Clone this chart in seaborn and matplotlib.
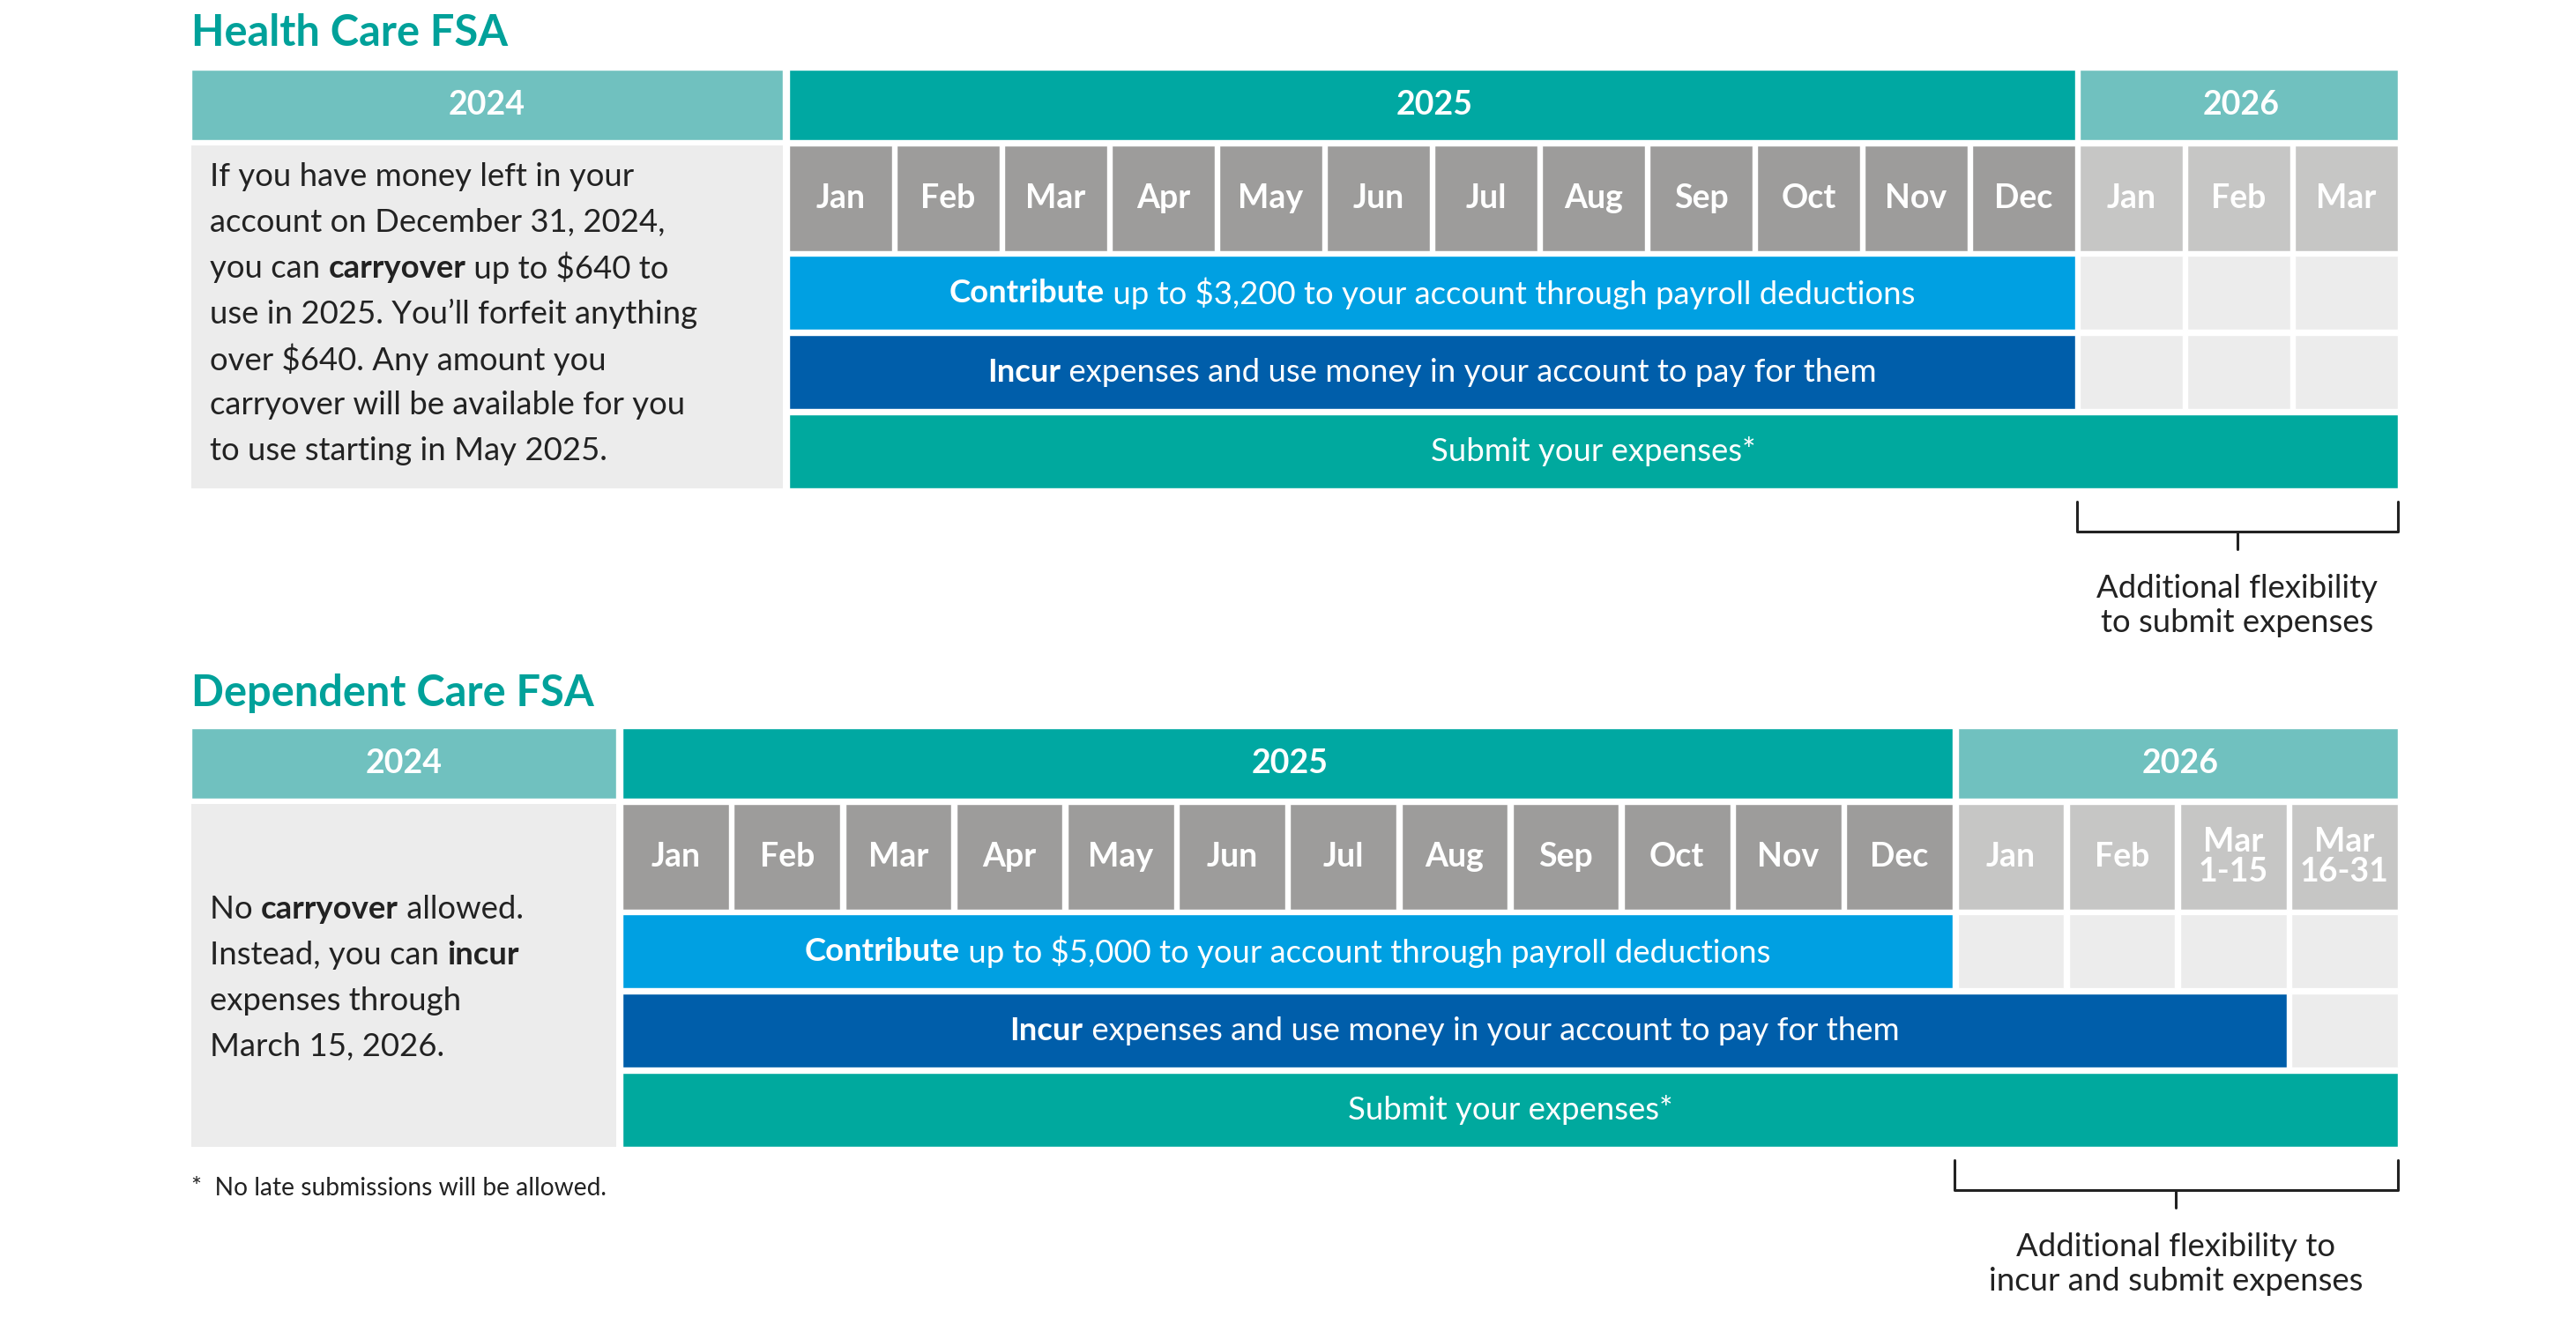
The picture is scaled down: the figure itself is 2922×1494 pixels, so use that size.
import matplotlib
matplotlib.use("Agg")
import matplotlib.pyplot as plt
import seaborn as sns
from matplotlib.patches import Rectangle

sns.set_theme(style="white")
plt.rcParams["font.family"] = "Lato"

# ---------------- data ----------------
months_hc = ["Jan", "Feb", "Mar", "Apr", "May", "Jun", "Jul", "Aug", "Sep", "Oct", "Nov", "Dec", "Jan", "Feb", "Mar"]
months_dc = ["Jan", "Feb", "Mar", "Apr", "May", "Jun", "Jul", "Aug", "Sep", "Oct", "Nov", "Dec", "Jan", "Feb", "Mar\n1-15", "Mar\n16-31"]
years = ["2024", "2025", "2026"]
# bars: (segments, start column, end column exclusive)
bars_hc = [
    ([("Contribute", "bold"), (" up to $3,200 to your account through payroll deductions", "normal")], 0, 12),
    ([("Incur", "bold"), (" expenses and use money in your account to pay for them", "normal")], 0, 12),
    ([("Submit your expenses*", "normal")], 0, 15),
]
bars_dc = [
    ([("Contribute", "bold"), (" up to $5,000 to your account through payroll deductions", "normal")], 0, 12),
    ([("Incur", "bold"), (" expenses and use money in your account to pay for them", "normal")], 0, 15),
    ([("Submit your expenses*", "normal")], 0, 16),
]
text_hc = [
    [("If you have money left in your", "normal")],
    [("account on December 31, 2024,", "normal")],
    [("you can ", "normal"), ("carryover", "bold"), (" up to $640 to", "normal")],
    [("use in 2025. You\u2019ll forfeit anything", "normal")],
    [("over $640. Any amount you", "normal")],
    [("carryover will be available for you", "normal")],
    [("to use starting in May 2025.", "normal")],
]
text_dc = [
    [("No ", "normal"), ("carryover", "bold"), (" allowed.", "normal")],
    [("Instead, you can ", "normal"), ("incur", "bold")],
    [("expenses through", "normal")],
    [("March 15, 2026.", "normal")],
]
note_hc = "Additional flexibility\nto submit expenses"
note_dc = "Additional flexibility to\nincur and submit expenses"
footnote = "*  No late submissions will be allowed."

# ---------------- style ----------------
TEAL_TITLE = "#00a19a"
HDR_LIGHT = "#70c1bf"
HDR_DARK = "#00a8a2"
GREY_M = "#9d9c9b"
GREY_L = "#c6c6c5"
CELL = "#ececec"
BAR_COLORS = ["#00a0e2", "#005eaa", "#00a99e"]
S = 1.35  # ref px -> pt

fig = plt.figure(figsize=(29.22, 14.94), dpi=100)
ax = fig.add_axes([0, 0, 1, 1])
ax.set_xlim(0, 1560)
ax.set_ylim(798, 0)
ax.axis("off")
renderer = fig.canvas.get_renderer()
ppu = 2922 / 1560


def seg_text(x, y, segs, size, color, ha="left"):
    # measure widths
    widths = []
    for s, w in segs:
        t = ax.text(0, 0, s, fontsize=size, fontweight=w)
        widths.append(t.get_window_extent(renderer).width / ppu)
        t.remove()
    total = sum(widths)
    cx = x - total / 2 if ha == "center" else x
    for (s, w), wd in zip(segs, widths):
        ax.text(cx, y, s, fontsize=size, fontweight=w, color=color, va="center", ha="left")
        cx += wd


def panel(title, ty, left_x0, left_x1, grid_x0, grid_x1, months, n25, hdr_y, bars, lines, line_y0, note, br, footy=None):
    ax.text(116, ty, title, fontsize=26 * S, fontweight="bold", color=TEAL_TITLE, va="center")
    n = len(months)
    cw = (grid_x1 - grid_x0 + 3) / n
    g = 3
    hh = 43
    # header
    ax.barh(hdr_y + hh / 2, left_x1 - left_x0, left=left_x0, height=hh, color=HDR_LIGHT)
    ax.barh(hdr_y + hh / 2, cw * n25 - g, left=grid_x0, height=hh, color=HDR_DARK)
    ax.barh(hdr_y + hh / 2, cw * (n - n25) - g, left=grid_x0 + cw * n25, height=hh, color=HDR_LIGHT)
    for lab, cx in zip(years, [(left_x0 + left_x1) / 2, grid_x0 + cw * n25 / 2, grid_x0 + cw * n25 + cw * (n - n25) / 2]):
        ax.text(cx, hdr_y + hh / 2, lab, fontsize=20 * S, fontweight="bold", color="white", ha="center", va="center")
    # months
    my = hdr_y + hh + 3
    mh = 64
    for i, m in enumerate(months):
        col = GREY_M if i < n25 else GREY_L
        ax.barh(my + mh / 2, cw - g, left=grid_x0 + i * cw, height=mh, color=col)
        ax.text(grid_x0 + i * cw + (cw - g) / 2, my + mh / 2, m, fontsize=20 * S, fontweight="bold",
                color="white", ha="center", va="center", linespacing=1.0)
    # rows
    ry = my + mh + 3
    rh = 45
    y_end = ry + 3 * (rh + 3) - 3
    ax.add_patch(Rectangle((left_x0, my), left_x1 - left_x0, y_end - my, color=CELL, lw=0))
    for k, (segs, s0, s1) in enumerate(bars):
        yy = ry + k * (rh + 3)
        for i in range(s1, n):
            ax.barh(yy + rh / 2, cw - g, left=grid_x0 + i * cw, height=rh, color=CELL)
        w = cw * (s1 - s0) - g
        ax.barh(yy + rh / 2, w, left=grid_x0 + s0 * cw, height=rh, color=BAR_COLORS[k])
        seg_text(grid_x0 + s0 * cw + w / 2, yy + rh / 2, segs, 19.5 * S, "white", ha="center")
    # left text
    for j, segs in enumerate(lines):
        seg_text(127, line_y0 + j * 27.7, segs, 19.5 * S, "#222222")
    # bracket
    bx0 = grid_x0 + br * cw - 2
    bx1 = grid_x1
    by = y_end + 8
    ax.plot([bx0, bx0, bx1, bx1], [by, by + 18, by + 18, by], color="#222222", lw=2.2)
    mid = (bx0 + bx1) / 2
    ax.plot([mid, mid], [by + 18, by + 29], color="#222222", lw=2.2)
    ax.text(mid, by + 63, note, fontsize=19.5 * S, color="#222222", ha="center", va="center", linespacing=1.25)
    if footy is not None:
        ax.text(116, footy, footnote, fontsize=15 * S, color="#222222", va="center")


panel("Health Care FSA", 20, 116, 474, 478, 1452, months_hc, 12, 42, bars_hc, text_hc, 107, note_hc, 12)
panel("Dependent Care FSA", 420, 116, 373, 377, 1452, months_dc, 12, 441, bars_dc, text_dc, 551, note_dc, 12, footy=720)

fig.savefig("out.png", dpi=100, facecolor="white")
